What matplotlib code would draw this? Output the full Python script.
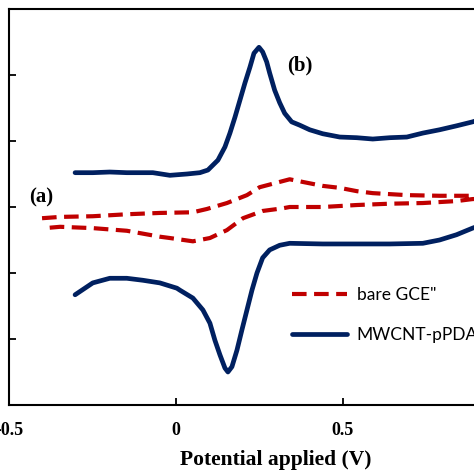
import matplotlib
matplotlib.use("Agg")
import matplotlib.pyplot as plt

# Potential (V) and current (arbitrary units, ticks at 1 unit spacing)
bare_fwd_E = [-0.401, -0.347, -0.249, -0.147, -0.048, 0.051, 0.093, 0.153, 0.213, 0.251,
              0.311, 0.341, 0.380, 0.440, 0.491, 0.542, 0.590, 0.692, 0.790, 0.889, 1.0]
bare_fwd_I = [2.83, 2.85, 2.86, 2.89, 2.91, 2.92, 2.97, 3.06, 3.18, 3.30,
              3.38, 3.42, 3.38, 3.32, 3.29, 3.24, 3.21, 3.18, 3.17, 3.17, 3.15]
bare_rev_E = [1.0, 0.889, 0.841, 0.740, 0.641, 0.542, 0.440, 0.341, 0.320, 0.260,
              0.201, 0.153, 0.102, 0.051, -0.018, -0.048, -0.147, -0.249, -0.347, -0.392]
bare_rev_I = [3.14, 3.12, 3.09, 3.06, 3.05, 3.03, 3.00, 3.00, 2.98, 2.94,
              2.83, 2.65, 2.53, 2.48, 2.53, 2.55, 2.64, 2.68, 2.70, 2.68]

mw_fwd_E = [-0.302, -0.249, -0.198, -0.147, -0.069, -0.018, 0.033, 0.072, 0.096, 0.126,
            0.147, 0.162, 0.177, 0.192, 0.207, 0.222, 0.234, 0.249, 0.260, 0.272,
            0.281, 0.296, 0.311, 0.326, 0.347, 0.371, 0.401, 0.440, 0.491, 0.542,
            0.590, 0.641, 0.692, 0.740, 0.790, 0.841, 0.889, 0.970, 1.0]
mw_fwd_I = [3.52, 3.52, 3.53, 3.52, 3.52, 3.48, 3.50, 3.52, 3.56, 3.71,
            3.91, 4.12, 4.36, 4.62, 4.88, 5.12, 5.33, 5.42, 5.35, 5.20,
            5.03, 4.77, 4.58, 4.42, 4.29, 4.24, 4.17, 4.11, 4.06, 4.05,
            4.03, 4.05, 4.06, 4.12, 4.17, 4.23, 4.29, 4.42, 4.48]
mw_rev_E = [1.0, 0.940, 0.889, 0.841, 0.790, 0.740, 0.641, 0.440, 0.341, 0.311,
            0.281, 0.260, 0.243, 0.228, 0.213, 0.198, 0.183, 0.168, 0.156, 0.147,
            0.132, 0.117, 0.102, 0.081, 0.051, 0.012, 0.003, -0.048, -0.099, -0.147,
            -0.198, -0.249, -0.302]
mw_rev_I = [2.88, 2.77, 2.68, 2.58, 2.50, 2.45, 2.44, 2.44, 2.45, 2.42,
            2.35, 2.23, 2.00, 1.74, 1.44, 1.14, 0.83, 0.58, 0.50, 0.56,
            0.76, 0.98, 1.24, 1.44, 1.62, 1.74, 1.77, 1.85, 1.89, 1.92,
            1.92, 1.85, 1.67]

xticks = [-0.5, 0, 0.5]
xticklabels = ["-0.5", "0", "0.5"]
yticks = [0, 1, 2, 3, 4, 5, 6]

series_names = ['bare GCE"', "MWCNT-pPDA"]

RED = "#C00000"
BLUE = "#002060"
SERIF = "Liberation Serif"

fig = plt.figure(figsize=(4.74, 4.74), dpi=100)
W = H = 474.0
left_px, top_px, bottom_px = 9, 9, 405
right_px = 543
ax = fig.add_axes([left_px / W, 1 - bottom_px / H, (right_px - left_px) / W, (bottom_px - top_px) / H])

ax.plot(bare_fwd_E + bare_rev_E, bare_fwd_I + bare_rev_I, color=RED, lw=3.0,
        linestyle=(0, (3.5, 1.8)), label=series_names[0])
ax.plot(mw_fwd_E + mw_rev_E, mw_fwd_I + mw_rev_I, color=BLUE, lw=3.4,
        solid_capstyle="round", solid_joinstyle="round", label=series_names[1])

ax.set_xlim(-0.5, 1.1)
ax.set_ylim(0, 6)
ax.set_xticks(xticks)
ax.set_xticklabels(xticklabels)
ax.set_yticks(yticks)
ax.set_yticklabels([])
ax.tick_params(direction="in", length=5, width=1.3, colors="black")
for lbl in ax.get_xticklabels():
    lbl.set_fontfamily(SERIF)
    lbl.set_fontweight("bold")
    lbl.set_fontsize(13)
ax.tick_params(axis="x", pad=12)
for s in ax.spines.values():
    s.set_linewidth(1.5)

ax.set_xlabel("Potential applied (V)", fontfamily=SERIF, fontweight="bold", fontsize=15.5, labelpad=8)

ax.text(-0.403, 3.14, "(a)", fontfamily=SERIF, fontweight="bold", fontsize=15, ha="center", va="center")
ax.text(0.371, 5.14, "(b)", fontfamily=SERIF, fontweight="bold", fontsize=15, ha="center", va="center")

leg = ax.legend(loc="upper left", bbox_to_anchor=(0.53, 0.297), frameon=False,
                prop={"family": "Lato", "size": 12.5}, handlelength=3.15, handletextpad=0.58,
                labelspacing=1.35, borderpad=0, borderaxespad=0)

fig.savefig("out.png", dpi=100)
